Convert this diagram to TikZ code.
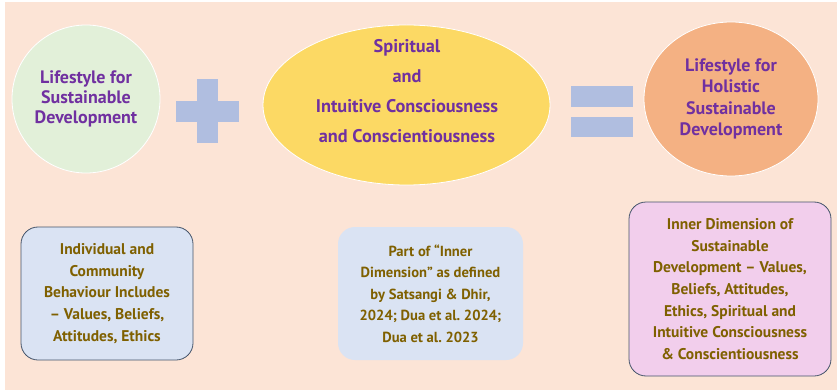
\documentclass[tikz,border=0pt]{standalone}
\usepackage{fontspec}
\setmainfont{PT Sans}
\usepackage{tikz}
\usepackage{xcolor}
\usetikzlibrary{shapes.geometric}

\definecolor{peach}{HTML}{FCE4D6}
\definecolor{sagegreen}{HTML}{E2F0D9}
\definecolor{sunyellow}{HTML}{FCD964}
\definecolor{apricot}{HTML}{F4B183}
\definecolor{lavender}{HTML}{B0BEE0}
\definecolor{paleblue}{HTML}{DAE3F3}
\definecolor{palepink}{HTML}{F2CEEC}
\definecolor{plum}{HTML}{7030A0}
\definecolor{olive}{HTML}{7F6000}
\definecolor{slate}{HTML}{44546A}

\begin{document}
\begin{tikzpicture}[x=1pt,y=1pt]
\tikzstyle{every node}+=[inner sep=0pt]
\tikzstyle{bubble}=[ellipse,draw=white,line width=0.8pt,align=center,text=plum,font=\bfseries\fontsize{18}{20}\selectfont]
\tikzstyle{notebox}=[rectangle,rounded corners=17pt,align=center,text=olive,font=\bfseries\fontsize{15.5}{21.6}\selectfont]
\useasboundingbox (0,0) rectangle (837,-390);
\fill [peach] (5,-2) rectangle (837,-390);
% top row
\node [bubble,fill=sagegreen,minimum width=148,minimum height=148] (lifestyle) at (86,-99) {Lifestyle for\\Sustainable\\Development};
\fill [lavender] (176,-101) rectangle (239,-122);
\fill [lavender] (197,-79) rectangle (218,-143);
\node [bubble,fill=sunyellow,minimum width=287,minimum height=160] (spiritual) at (406.5,-105) {};
\node [align=center,text=plum,font=\bfseries\fontsize{18.3}{30}\selectfont] (spiritualtext) at (407,-91) {Spiritual\\and\\Intuitive Consciousness\\and Conscientiousness};
\fill [lavender] (571,-86) rectangle (633,-107);
\fill [lavender] (571,-117) rectangle (633,-137);
\node [bubble,fill=apricot,minimum width=174,minimum height=154,font=\bfseries\fontsize{18}{21.6}\selectfont] (holistic) at (731,-99) {Lifestyle for\\Holistic\\Sustainable\\Development};
% bottom row
\node [notebox,draw=slate,line width=0.8pt,fill=paleblue,minimum width=172,minimum height=133] (behaviour) at (107,-293.5) {Individual and\\Community\\Behaviour Includes\\– Values, Beliefs,\\Attitudes, Ethics};
\node [notebox,fill=paleblue,minimum width=185,minimum height=133,font=\bfseries\fontsize{14.6}{21.4}\selectfont] (inner) at (430.5,-293.5) {Part of “Inner\\Dimension” as defined\\by Satsangi \& Dhir,\\2024; Dua et al.\ 2024;\\Dua et al.\ 2023};
\node [notebox,draw=slate,line width=0.8pt,fill=palepink,minimum width=202,minimum height=174] (dimension) at (730,-289) {Inner Dimension of\\Sustainable\\Development – Values,\\Beliefs, Attitudes,\\Ethics, Spiritual and\\Intuitive Consciousness\\\& Conscientiousness};
\end{tikzpicture}
\end{document}
